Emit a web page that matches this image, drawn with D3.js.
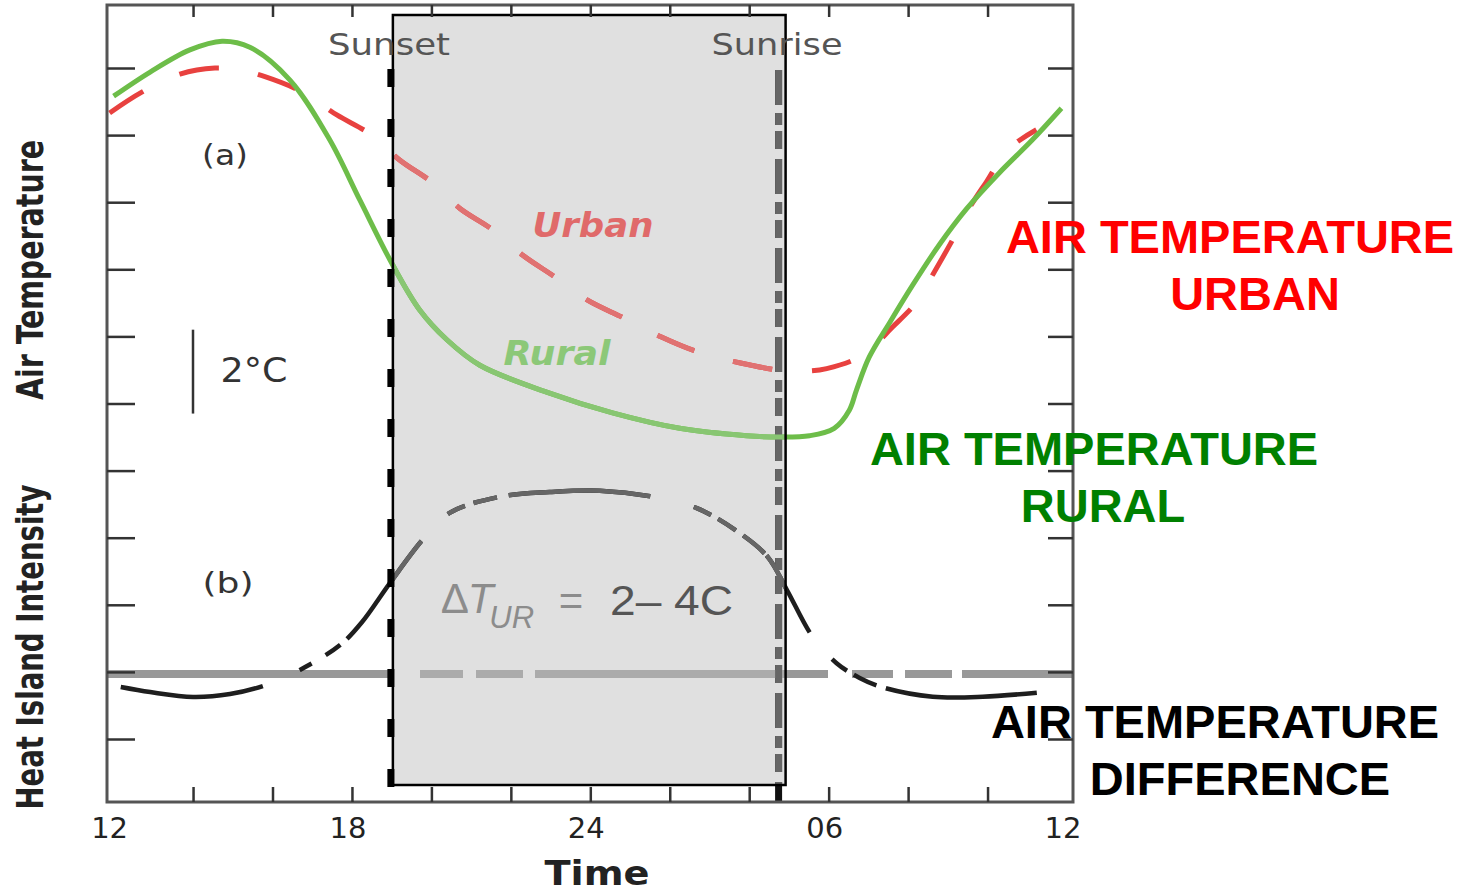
<!DOCTYPE html>
<html>
<head>
<meta charset="utf-8">
<script src="https://cdn.jsdelivr.net/npm/d3@7"></script>
<style>
  body { margin: 0; background: #fff; }
  svg { display: block; }
</style>
</head>
<body>
<div id="chart"></div>
<script>
// Hours run from noon (12) through midnight (24) to the next noon (36)
const hourTicks = [14, 16, 18, 20, 22, 24, 26, 28, 30, 32, 34];
const hourLabels = [12, 18, 24, 30, 36];
const hourLabelText = ["12", "18", "24", "06", "12"];
const tempTicks = [0, 1, 2, 3, 4, 5, 6, 7, 8, 9, 10];

const sunsetHour = 18.98;
const sunriseHour = 28.74;

// (a) air temperature, arbitrary units (1 unit = 1 tick)
const ruralHours = [12.0, 12.92, 13.92, 14.73, 15.43, 16.44, 17.44, 18.2, 19.03, 19.71, 20.39, 21.22, 22.9, 24.56, 26.25, 27.93, 28.76, 29.52, 30.14, 30.52, 30.7, 31.02, 31.53, 32.11, 32.79, 33.47, 34.3, 35.13, 35.86];
const ruralTemp = [9.58, 9.94, 10.27, 10.4, 10.31, 9.82, 8.93, 8.03, 7.06, 6.39, 5.95, 5.57, 5.17, 4.86, 4.63, 4.52, 4.5, 4.52, 4.63, 4.9, 5.2, 5.69, 6.2, 6.76, 7.37, 7.9, 8.44, 8.93, 9.4];

const urbanHours = [11.9, 12.71, 13.67, 14.55, 15.18, 15.81, 16.76, 17.62, 18.5, 19.2, 20.03, 20.71, 21.54, 22.3, 23.1, 23.93, 24.86, 25.79, 26.7, 27.81, 28.84, 29.39, 29.95, 30.86, 31.61, 32.21, 32.66, 33.12, 33.54, 34.0, 34.5, 35.23];
const urbanTemp = [9.33, 9.64, 9.91, 10.0, 9.97, 9.87, 9.64, 9.3, 9.0, 8.63, 8.29, 7.91, 7.59, 7.21, 6.89, 6.54, 6.27, 5.99, 5.77, 5.6, 5.49, 5.48, 5.52, 5.72, 6.14, 6.51, 6.96, 7.44, 7.91, 8.33, 8.78, 9.08];

// (b) heat island intensity, same units
const diffHours = [12.18, 12.92, 14.0, 14.93, 15.76, 16.69, 17.7, 18.25, 18.95, 19.78, 20.46, 21.72, 22.98, 24.24, 25.58, 26.68, 27.76, 28.47, 28.95, 29.6, 30.2, 30.78, 31.36, 32.62, 33.88, 35.24];
const diffValue = [0.775, 0.7, 0.626, 0.67, 0.79, 1.03, 1.4, 1.74, 2.32, 2.97, 3.37, 3.61, 3.68, 3.7, 3.61, 3.44, 3.07, 2.71, 2.22, 1.52, 1.13, 0.91, 0.77, 0.63, 0.63, 0.69];
const diffBase = 0.97;

const width = 1470;
const height = 893;
const frame = { left: 107, right: 1073, top: 5, bottom: 802 };
const night = { top: 15, bottom: 785 };

const x = d3.scaleLinear().domain([12, 36]).range([113.6, 1067]);
const y = d3.scaleLinear().domain([0, 10]).range([739, 68]);

const svg = d3.select("#chart")
    .append("svg")
    .attr("width", width)
    .attr("height", height);

const line = d3.line()
    .x(d => x(d[0]))
    .y(d => y(d[1]))
    .curve(d3.curveCatmullRom.alpha(0.5));

const rural = d3.zip(ruralHours, ruralTemp);
const urban = d3.zip(urbanHours, urbanTemp);
const diff = d3.zip(diffHours, diffValue);

const boxX0 = x(sunsetHour) + 2;
const boxX1 = x(sunriseHour) + 7;

svg.append("defs").append("clipPath")
    .attr("id", "night")
    .append("rect")
    .attr("x", boxX0).attr("y", night.top)
    .attr("width", boxX1 - boxX0).attr("height", night.bottom - night.top);

// night box fill
svg.append("rect")
    .attr("x", boxX0).attr("y", night.top)
    .attr("width", boxX1 - boxX0).attr("height", night.bottom - night.top)
    .attr("fill", "#e0e0e0");

// draw all curves with a given palette (normal, then lighter inside the night box)
function drawCurves(g, c) {
    g.append("line")
        .attr("x1", frame.left).attr("x2", frame.right)
        .attr("y1", y(diffBase)).attr("y2", y(diffBase))
        .attr("stroke", c.base).attr("stroke-width", 8)
        .attr("stroke-dasharray", "286,27,43,13,47,12,293,24,41,12,47,10,200");

    g.append("line")
        .attr("x1", x(sunriseHour)).attr("x2", x(sunriseHour))
        .attr("y1", 70).attr("y2", frame.bottom)
        .attr("stroke", c.sunrise).attr("stroke-width", 7)
        .attr("stroke-dasharray", "35,8,12,6,18,10");

    g.append("path")
        .datum(urban)
        .attr("d", line)
        .attr("fill", "none")
        .attr("stroke", c.urban).attr("stroke-width", 5)
        .attr("stroke-dasharray", "40,40");

    g.append("path")
        .datum(rural)
        .attr("d", line)
        .attr("fill", "none")
        .attr("stroke", c.rural).attr("stroke-width", 5);

    g.append("path")
        .datum(diff)
        .attr("d", line)
        .attr("fill", "none")
        .attr("stroke", c.diff).attr("stroke-width", 4.5)
        .attr("stroke-dasharray", "144,40,14,16,18,9,123,38,19,9,24,12,142,45,19,8,21,9,28,3,88,35,19,8,25,10,160");
}

drawCurves(svg.append("g"), {
    base: "#999", sunrise: "#111", urban: "#e8413f", rural: "#6dbd49", diff: "#1e1e1e"
});
drawCurves(svg.append("g").attr("clip-path", "url(#night)"), {
    base: "#ababab", sunrise: "#666", urban: "#e07272", rural: "#88c672", diff: "#666"
});

// night box border
svg.append("rect")
    .attr("x", boxX0).attr("y", night.top)
    .attr("width", boxX1 - boxX0).attr("height", night.bottom - night.top)
    .attr("fill", "none")
    .attr("stroke", "#000").attr("stroke-width", 2.5);

// sunset line
svg.append("line")
    .attr("x1", x(sunsetHour)).attr("x2", x(sunsetHour))
    .attr("y1", 69).attr("y2", 790)
    .attr("stroke", "#000").attr("stroke-width", 7)
    .attr("stroke-dasharray", "18,32");

// frame and inward ticks
svg.append("rect")
    .attr("x", frame.left).attr("y", frame.top)
    .attr("width", frame.right - frame.left).attr("height", frame.bottom - frame.top)
    .attr("fill", "none")
    .attr("stroke", "#555").attr("stroke-width", 3);

function styleTicks(g) {
    g.select(".domain").remove();
    g.selectAll(".tick line").attr("stroke", "#333").attr("stroke-width", 2.5);
}

svg.append("g").attr("transform", `translate(0,${frame.bottom})`)
    .call(d3.axisBottom(x).tickValues(hourTicks).tickSize(-15).tickFormat(""))
    .call(styleTicks);
svg.append("g").attr("transform", `translate(0,${frame.top})`)
    .call(d3.axisTop(x).tickValues(hourTicks).tickSize(-12).tickFormat(""))
    .call(styleTicks);
svg.append("g").attr("transform", `translate(${frame.left},0)`)
    .call(d3.axisLeft(y).tickValues(tempTicks).tickSize(-28).tickFormat(""))
    .call(styleTicks);
svg.append("g").attr("transform", `translate(${frame.right},0)`)
    .call(d3.axisRight(y).tickValues(tempTicks).tickSize(-25).tickFormat(""))
    .call(styleTicks);

// hour labels
svg.selectAll(".hour-label")
    .data(hourLabels)
    .enter()
    .append("text")
    .attr("class", "hour-label")
    .attr("x", d => x(d) - 4)
    .attr("y", 838)
    .attr("text-anchor", "middle")
    .attr("font-family", "DejaVu Sans, sans-serif")
    .attr("font-size", 29)
    .attr("fill", "#222")
    .text((d, i) => hourLabelText[i]);

// axis titles
const titleFont = "Liberation Sans Narrow, DejaVu Sans Condensed, Liberation Sans, sans-serif";
svg.append("text")
    .attr("x", 597).attr("y", 885)
    .attr("text-anchor", "middle")
    .attr("font-family", titleFont).attr("font-weight", "bold").attr("font-size", 34)
    .attr("textLength", 105).attr("lengthAdjust", "spacingAndGlyphs")
    .attr("fill", "#222")
    .text("Time");

svg.append("text")
    .attr("transform", "translate(43,270) rotate(-90)")
    .attr("text-anchor", "middle")
    .attr("font-family", titleFont).attr("font-weight", "bold").attr("font-size", 38)
    .attr("textLength", 260).attr("lengthAdjust", "spacingAndGlyphs")
    .attr("fill", "#222")
    .text("Air Temperature");

svg.append("text")
    .attr("transform", "translate(43,647) rotate(-90)")
    .attr("text-anchor", "middle")
    .attr("font-family", titleFont).attr("font-weight", "bold").attr("font-size", 38)
    .attr("textLength", 325).attr("lengthAdjust", "spacingAndGlyphs")
    .attr("fill", "#222")
    .text("Heat Island Intensity");

// annotations inside the plot
function note(txt, cx, by, size, len, color, extra) {
    const t = svg.append("text")
        .attr("x", cx).attr("y", by)
        .attr("text-anchor", "middle")
        .attr("font-family", "DejaVu Sans, sans-serif")
        .attr("font-size", size)
        .attr("textLength", len).attr("lengthAdjust", "spacingAndGlyphs")
        .attr("fill", color)
        .text(txt);
    if (extra) extra(t);
    return t;
}

note("Sunset", 389, 55, 30, 122, "#555");
note("Sunrise", 777, 55, 30, 131, "#555");
note("(a)", 225, 165, 28, 46, "#333");
note("(b)", 228, 593, 28, 51, "#333");
note("2°C", 254, 382, 33, 67, "#333");
note("Urban", 593, 237, 33, 121, "#e06a6a", t => t.attr("font-weight", "bold").attr("font-style", "italic"));
note("Rural", 557, 365, 33, 107, "#8cc878", t => t.attr("font-weight", "bold").attr("font-style", "italic"));

// 2 degree scale bar
svg.append("line")
    .attr("x1", 193).attr("x2", 193)
    .attr("y1", y(6.1)).attr("y2", y(4.85))
    .attr("stroke", "#333").attr("stroke-width", 2.5);

// delta T label
const dT = svg.append("text")
    .attr("x", 442).attr("y", 613)
    .attr("font-family", "Liberation Sans, Arial, sans-serif")
    .attr("font-size", 42)
    .attr("fill", "#8c8c8c");
dT.append("tspan").text("\u2206");
dT.append("tspan").attr("font-style", "italic").text("T");
dT.append("tspan").attr("font-style", "italic").attr("font-size", 31).attr("dy", 15).attr("dx", -4).text("UR");

svg.append("text")
    .attr("x", 571).attr("y", 615)
    .attr("text-anchor", "middle")
    .attr("font-family", "Liberation Sans, Arial, sans-serif")
    .attr("font-size", 42)
    .attr("fill", "#8c8c8c")
    .text("=");

svg.append("text")
    .attr("x", 610).attr("y", 615)
    .attr("font-family", "Liberation Sans, Arial, sans-serif")
    .attr("font-size", 43)
    .attr("textLength", 123).attr("lengthAdjust", "spacingAndGlyphs")
    .attr("fill", "#555")
    .text("2\u2013 4C");

// callouts on the right
const callouts = [
    { lines: ["AIR TEMPERATURE", "URBAN"], cx: [1230, 1255], y: [253, 310], color: "#ff0000" },
    { lines: ["AIR TEMPERATURE", "RURAL"], cx: [1094, 1103], y: [465, 522], color: "#008000" },
    { lines: ["AIR TEMPERATURE", "DIFFERENCE"], cx: [1215, 1240], y: [738, 795], color: "#000000" }
];

callouts.forEach(c => {
    c.lines.forEach((txt, i) => {
        svg.append("text")
            .attr("x", c.cx[i]).attr("y", c.y[i])
            .attr("text-anchor", "middle")
            .attr("font-family", "Liberation Sans, Arial, sans-serif")
            .attr("font-weight", "bold")
            .attr("font-size", 47)
            .attr("fill", c.color)
            .text(txt);
    });
});
</script>
</body>
</html>
